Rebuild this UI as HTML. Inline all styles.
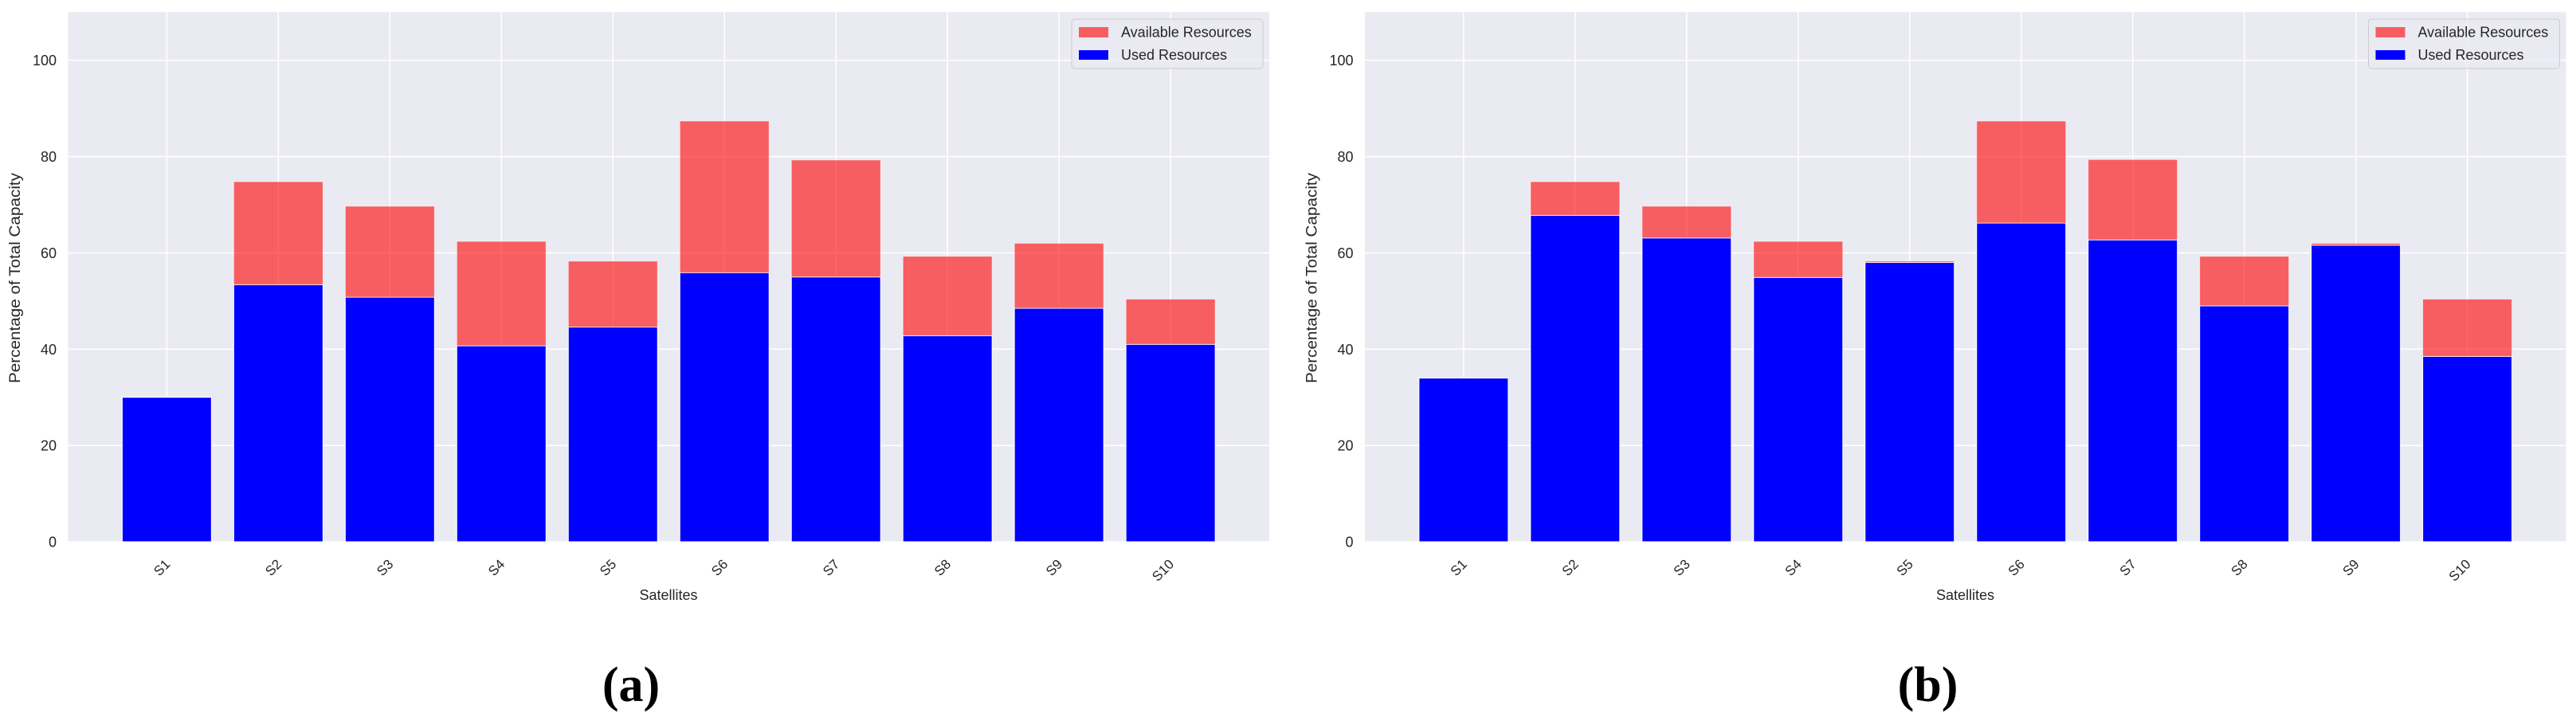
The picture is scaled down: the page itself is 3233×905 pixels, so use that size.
<!DOCTYPE html>
<html><head><meta charset="utf-8"><style>
html,body{margin:0;padding:0;background:#fff;}
svg{display:block;font-family:"Liberation Sans",Arial,sans-serif;}
</style></head><body>
<svg id="fig" width="3233" height="905" viewBox="0 0 3233 905" xmlns="http://www.w3.org/2000/svg"></svg>
<script>
const categories = ["S1","S2","S3","S4","S5","S6","S7","S8","S9","S10"];
const totalA = [30.0,74.8,69.7,62.4,58.3,87.4,79.3,59.3,62.0,50.4];
const usedA  = [30.0,53.4,50.8,40.7,44.6,55.9,55.0,42.8,48.5,41.0];
const totalB = [34.0,74.8,69.7,62.4,58.3,87.4,79.4,59.3,62.0,50.4];
const usedB  = [34.0,67.8,63.1,54.9,58.0,66.2,62.7,49.0,61.6,38.5];
const yTicks = [0,20,40,60,80,100];
const yMax = 110;

const NS = "http://www.w3.org/2000/svg";
const svg = document.getElementById("fig");
function el(tag, attrs, parent, text){
  const e = document.createElementNS(NS, tag);
  for (const k in attrs) e.setAttribute(k, attrs[k]);
  if (text !== undefined) e.textContent = text;
  (parent || svg).appendChild(e);
  return e;
}

function panel(off, used, total, tag, letter){
  const L = 85.5 + off, R = 1593 + off, T = 15.3, B = 680;
  const n = categories.length;
  const xmin = -0.885, xmax = n - 1 + 0.885;
  const xs = i => L + (i - xmin) / (xmax - xmin) * (R - L);
  const ys = v => B - v / yMax * (B - T);
  const bw = 0.8 * (R - L) / (xmax - xmin);

  const g = el("g", {});
  
  

  const bg = el("rect", {x:L, y:T, width:R-L, height:B-T, fill:"#eaeaf2"}, g);
  
  

  yTicks.forEach(t => {
    const ln = el("line", {x1:L, x2:R, y1:ys(t), y2:ys(t), stroke:"#fff", "stroke-width":1.6}, g);
    
    
    const tx = el("text", {x:71+off, y:ys(t)+6.5, "text-anchor":"end", "font-size":18, fill:"#262626"}, g, String(t));
    
    
  });
  categories.forEach((c, i) => {
    const ln = el("line", {x1:xs(i), x2:xs(i), y1:T, y2:B, stroke:"#fff", "stroke-width":1.6}, g);
    
    
  });

  categories.forEach((c, i) => {
    const x0 = xs(i) - bw/2;
    const bu = el("rect", {x:x0, y:ys(used[i]), width:bw, height:B-ys(used[i]), fill:"#0000ff", stroke:"#fff", "stroke-width":1}, g);
    
    
    const avail = total[i] - used[i];
    if (avail > 0) {
      const ba = el("rect", {x:x0, y:ys(total[i]), width:bw, height:ys(used[i])-ys(total[i]), fill:"#ff0000", "fill-opacity":0.6, stroke:"#fff", "stroke-opacity":0.6, "stroke-width":1}, g);
      
      
    }
    const cx = xs(i) - 4, cy = 700;
    const tl = el("text", {x:cx, y:cy+13, "text-anchor":"end", "font-size":17, fill:"#262626", transform:`rotate(-45 ${cx} ${cy})`}, g, c);
    
    
  });

  const xl = el("text", {x:839+off, y:753, "text-anchor":"middle", "font-size":18, fill:"#262626"}, g, "Satellites");
  
  
  const yx = 25 + off, yy = 349;
  const yl = el("text", {x:yx, y:yy, "text-anchor":"middle", "font-size":19, fill:"#262626", textLength:264, lengthAdjust:"spacingAndGlyphs", transform:`rotate(-90 ${yx} ${yy})`}, g, "Percentage of Total Capacity");
  
  

  const lg = el("g", {}, g);
  
  
  el("rect", {x:1345+off, y:24, width:240, height:62, rx:4, fill:"#eaeaf2", "fill-opacity":0.8, stroke:"#cccccc"}, lg);
  const p1 = el("rect", {x:1354+off, y:34, width:37, height:13, fill:"#ff0000", "fill-opacity":0.6}, lg);
  
  
  const t1 = el("text", {x:1407+off, y:46.5, "font-size":18, fill:"#262626"}, lg, "Available Resources");
  
  
  const p2 = el("rect", {x:1354+off, y:63, width:37, height:12, fill:"#0000ff"}, lg);
  
  
  const t2 = el("text", {x:1407+off, y:75, "font-size":18, fill:"#262626"}, lg, "Used Resources");
  
  

  const cap = el("text", {x:792+off, y:880, "text-anchor":"middle", "font-size":62, "font-weight":"bold", "font-family":"Liberation Serif, serif", fill:"#000"}, g, letter);
  
  
}

panel(0, usedA, totalA, "a", "(a)");
panel(1627.5, usedB, totalB, "b", "(b)");
</script>
</body></html>
